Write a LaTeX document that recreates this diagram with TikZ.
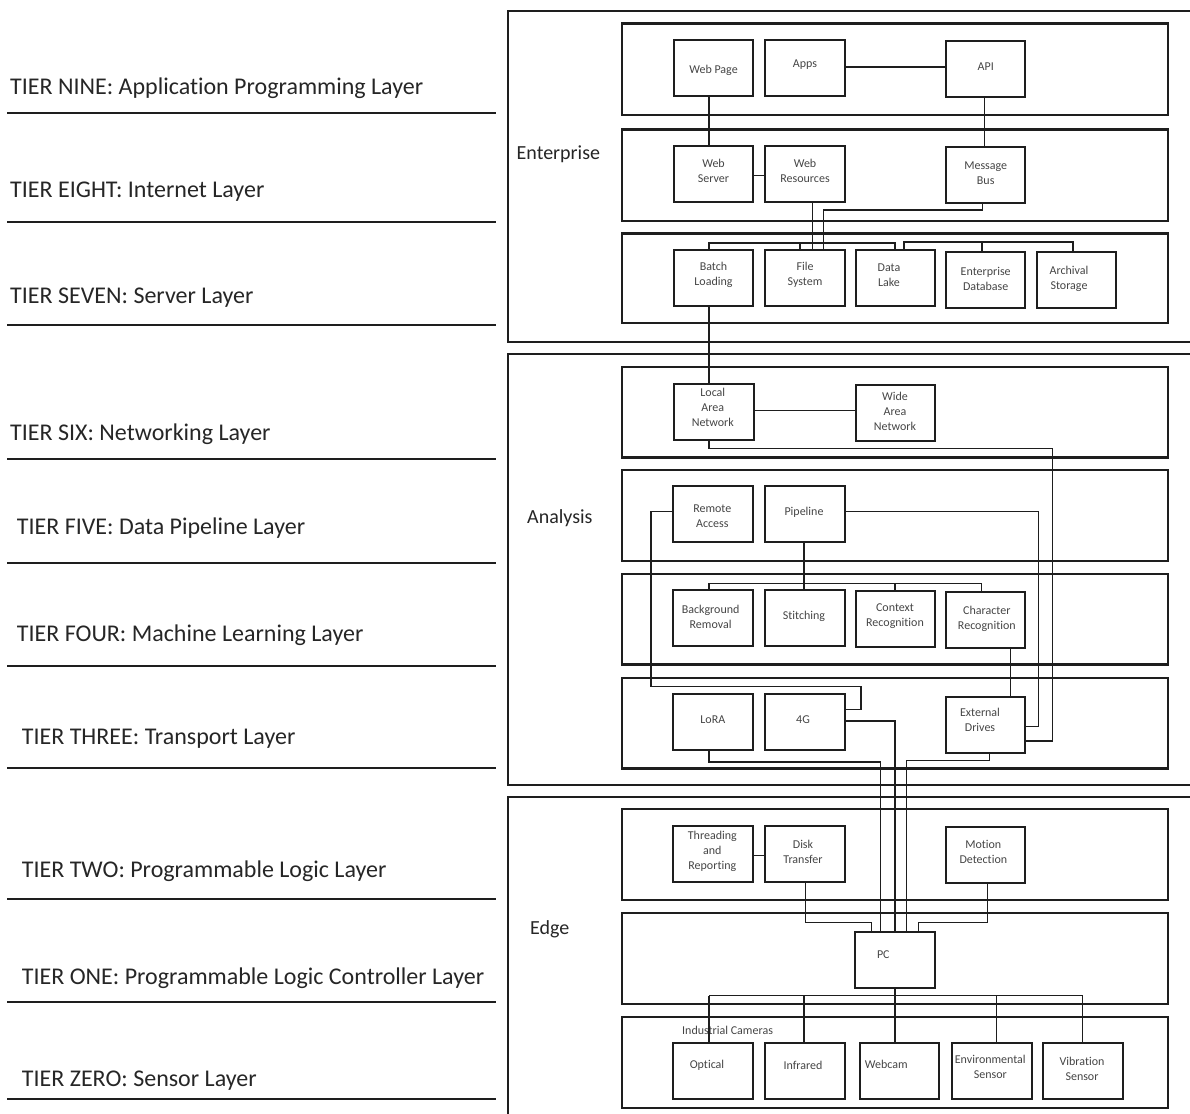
\documentclass[tikz,border=0pt]{standalone}
\usepackage{fontspec}
\setmainfont{Carlito}[Ligatures=NoCommon]
\definecolor{ink}{HTML}{1E1E1E}
\definecolor{txt}{HTML}{262626}
\definecolor{ntxt}{HTML}{454545}
\begin{document}
\begin{tikzpicture}[x=1pt,y=-1pt,
  tierlbl/.style={anchor=base west,inner sep=0,font=\fontsize{24}{28}\selectfont,text=txt},
  seclbl/.style={anchor=base west,inner sep=0,font=\fontsize{20}{24}\selectfont,text=txt},
  sepline/.style={draw=ink,line width=2pt},
  outerbox/.style={draw=ink,line width=2pt},
  layerbox/.style={draw=ink,line width=2.4pt},
  nbox/.style={draw=ink,line width=2pt,minimum width=79.5pt,minimum height=56pt,inner sep=0},
  ntext/.style={inner sep=0,align=center,font=\fontsize{12}{15}\selectfont,text=ntxt},
  conn/.style={draw=ink,line width=1.3pt}]
\useasboundingbox (0,0) rectangle (1190,1113);
\clip (0,0) rectangle (1190,1113);

% ---------- tier captions and separators ----------
\node[tierlbl] (t9) at (10,94.6)    {TIER NINE: Application Programming Layer};
\node[tierlbl] (t8) at (10,197.5)   {TIER EIGHT: Internet Layer};
\node[tierlbl] (t7) at (10,303.6)   {TIER SEVEN: Server Layer};
\node[tierlbl] (t6) at (10,440)     {TIER SIX: Networking Layer};
\node[tierlbl] (t5) at (16.7,534.6) {TIER FIVE: Data Pipeline Layer};
\node[tierlbl] (t4) at (16.7,641.6) {TIER FOUR: Machine Learning Layer};
\node[tierlbl] (t3) at (21.7,744)   {TIER THREE: Transport Layer};
\node[tierlbl] (t2) at (21.7,877.8) {TIER TWO: Programmable Logic Layer};
\node[tierlbl] (t1) at (21.7,984.5) {TIER ONE: Programmable Logic Controller Layer};
\node[tierlbl] (t0) at (21.7,1086.8){TIER ZERO: Sensor Layer};
\foreach \y in {112.6,222,325,458.5,562.6,665.6,768.3,899,1002.4,1099.4}
  \draw[sepline] (7,\y) -- (496,\y);

% ---------- zone frames ----------
\draw[outerbox] (508,10.7) rectangle (1200,342);
\draw[outerbox] (508,354) rectangle (1200,784.5);
\draw[outerbox] (508,796.7) rectangle (1200,1130);
\node[seclbl] (zent) at (516.5,159.3) {Enterprise};
\node[seclbl] (zana) at (527,523.3) {Analysis};
\node[seclbl] (zedg) at (530,934) {Edge};

% ---------- layer frames ----------
\draw[layerbox] (622,23.5) rectangle (1168,115);
\draw[layerbox] (622,129.5) rectangle (1168,221);
\draw[layerbox] (622,233.5) rectangle (1168,323);
\draw[layerbox] (622,366.7) rectangle (1168,457.3);
\draw[layerbox] (622,470) rectangle (1168,560.7);
\draw[layerbox] (622,574) rectangle (1168,664.3);
\draw[layerbox] (622,677.7) rectangle (1168,768.5);
\draw[layerbox] (622,809) rectangle (1168,900);
\draw[layerbox] (622,913) rectangle (1168,1004);
\draw[layerbox] (622,1017) rectangle (1168,1108);

% ---------- enterprise ----------
\node[nbox] (wp)   at (713.5,68) {};   \node[ntext] (wp-t)   at (713.5,70)  {Web Page};
\node[nbox] (apps) at (805,68) {};     \node[ntext] (apps-t) at (805,65)    {Apps};
\node[nbox] (api)  at (985.7,69.5) {}; \node[ntext] (api-t)  at (985.7,67)  {API};
\node[nbox] (ws)   at (713.5,174) {};  \node[ntext] (ws-t)   at (713.5,171) {Web\\Server};
\node[nbox] (wr)   at (805,174) {};    \node[ntext] (wr-t)   at (805,171)   {Web\\Resources};
\node[nbox] (mb)   at (985.7,175) {};  \node[ntext] (mb-t)   at (985.7,173) {Message\\Bus};
\node[nbox] (bl)   at (713.5,278) {};  \node[ntext] (bl-t)   at (713.5,275) {Batch\\Loading};
\node[nbox] (fs)   at (805,278) {};    \node[ntext] (fs-t)   at (805,275)   {File\\System};
\node[nbox] (dl)   at (895.5,278) {};  \node[ntext] (dl-t)   at (889,275)   {Data\\Lake};
\node[nbox] (edb)  at (985.7,279.5) {};\node[ntext] (edb-t)  at (985.7,279) {Enterprise\\Database};
\node[nbox] (arc)  at (1076.5,279.5) {};\node[ntext] (arc-t) at (1069,279)  {Archival\\Storage};

\draw[conn] (wp.south -| 709,0) -- (ws.north -| 709,0);
\draw[conn,line width=1.8pt] (apps.east |- 0,66.7) -- (api.west |- 0,66.7);
\draw[conn] (api.south -| 984.6,0) -- (mb.north -| 984.6,0);
\draw[conn] (ws.east |- 0,175.7) -- (wr.west |- 0,175.7);
\draw[conn] (wr.south -| 812.5,0) -- (fs.north -| 812.5,0);
\draw[conn] (mb.south -| 982.5,0) -- (982.5,210) -- (823.5,210) -- (fs.north -| 823.5,0);
\coordinate (j7a) at (800,243);
\coordinate (j7b) at (982,242);
\draw[conn] (bl.north -| 709,0) -- (709,243) -- (895,243) -- (dl.north -| 895,0);
\draw[conn] (j7a) -- (fs.north -| j7a);
\draw[conn] (dl.north -| 904,0) -- (904,242) -- (1073,242) -- (arc.north -| 1073,0);
\draw[conn] (j7b) -- (edb.north -| j7b);

% ---------- analysis ----------
\node[nbox] (lan)  at (714,411.7) {};   \node[ntext] (lan-t)  at (712.8,407.5) {Local\\Area\\Network};
\node[nbox] (wan)  at (895.3,413.3) {}; \node[ntext] (wan-t)  at (895,411.5)   {Wide\\Area\\Network};
\node[nbox] (ra)   at (713,513.7) {};   \node[ntext] (ra-t)   at (712.3,516.5) {Remote\\Access};
\node[nbox] (pipe) at (805,514.3) {};   \node[ntext] (pipe-t) at (804,512.7)   {Pipeline};
\node[nbox] (bgr)  at (713,618.3) {};   \node[ntext] (bgr-t)  at (710.6,616.7) {Background\\Removal};
\node[nbox] (sti)  at (805,618.3) {};   \node[ntext] (sti-t)  at (804,616.7)   {Stitching};
\node[nbox] (ctx)  at (895.5,619.2) {}; \node[ntext] (ctx-t)  at (895,616)     {Context\\Recognition};
\node[nbox] (chr)  at (985.7,619.5) {}; \node[ntext] (chr-t)  at (986.8,619.2) {Character\\Recognition};
\node[nbox] (lora) at (713,722) {};     \node[ntext] (lora-t) at (712.8,720)   {LoRA};
\node[nbox] (g4)   at (805,722) {};     \node[ntext] (g4-t)   at (803,720)     {4G};
\node[nbox] (ed)   at (985.7,724.5) {}; \node[ntext] (ed-t)   at (980,720.2)   {External\\Drives};

\draw[conn] (bl.south -| 709,0) -- (lan.north -| 709,0);
\draw[conn] (lan.east |- 0,410.7) -- (wan.west |- 0,410.7);
\draw[conn] (lan.south -| 709,0) -- (709,448.7) -- (1052.8,448.7) -- (1052.8,741) -- (ed.east |- 0,741);
\draw[conn] (ra.west |- 0,511.7) -- (651,511.7) -- (651,686.7) -- (861,686.7) -- (861,709.7) -- (g4.east |- 0,709.7);
\draw[conn] (pipe.east |- 0,511.7) -- (1038.3,511.7) -- (1038.3,726.7) -- (ed.east |- 0,726.7);
\draw[conn] (pipe.south -| 804,0) -- (sti.north -| 804,0);
\coordinate (j4a) at (709,583.3);
\coordinate (j4b) at (895,583.3);
\coordinate (j4c) at (981.5,583.3);
\draw[conn] (j4a) -- (j4c);
\draw[conn] (j4a) -- (bgr.north -| j4a);
\draw[conn] (j4b) -- (ctx.north -| j4b);
\draw[conn] (j4c) -- (chr.north -| j4c);
\draw[conn] (chr.south -| 1010.7,0) -- (ed.north -| 1010.7,0);

% ---------- edge ----------
\node[nbox] (thr) at (713,853.7) {};   \node[ntext] (thr-t) at (712.3,851.5) {Threading\\and\\Reporting};
\node[nbox] (dt)  at (805,853.7) {};   \node[ntext] (dt-t)  at (803,851.5)   {Disk\\Transfer};
\node[nbox] (md)  at (985.7,854.8) {}; \node[ntext] (md-t)  at (983.3,851.7) {Motion\\Detection};
\node[nbox] (pc)  at (895.2,960.2) {}; \node[ntext] (pc-t)  at (883.3,955)   {PC};
\node[ntext,anchor=west] (cams) at (682,1030) {Industrial Cameras};
\node[nbox] (opt) at (713,1070.5) {};  \node[ntext] (opt-t) at (707,1065)    {Optical};
\node[nbox] (ir)  at (805,1070.5) {};  \node[ntext] (ir-t)  at (803,1065)    {Infrared};
\node[nbox] (wc)  at (899.5,1070.5) {};\node[ntext,anchor=west] (wc-t) at (864.7,1064.3) {Webcam};
\node[nbox] (env) at (992.2,1070.5) {};\node[ntext] (env-t) at (990.3,1066.5) {Environmental\\Sensor};
\node[nbox] (vib) at (1082.8,1070.5) {};\node[ntext] (vib-t) at (1082,1069)  {Vibration\\Sensor};

\draw[conn] (thr.east |- 0,855.7) -- (dt.west |- 0,855.7);
\draw[conn] (lora.south -| 709,0) -- (709,762) -- (880.7,762) -- (pc.north -| 880.7,0);
\draw[conn] (g4.east |- 0,721) -- (895,721) -- (pc.north -| 895,0);
\draw[conn] (ed.south -| 989.5,0) -- (989.5,760.5) -- (906.7,760.5) -- (pc.north -| 906.7,0);
\draw[conn] (dt.south -| 805.7,0) -- (805.7,922.3) -- (871.7,922.3) -- (pc.north -| 871.7,0);
\draw[conn] (md.south -| 987.3,0) -- (987.3,922.3) -- (918.3,922.3) -- (pc.north -| 918.3,0);
\coordinate (j0a) at (709,995.5);
\coordinate (j0b) at (804,995.5);
\coordinate (j0c) at (895,995.5);
\coordinate (j0d) at (996.5,995.5);
\coordinate (j0e) at (1082.8,995.5);
\draw[conn] (pc.south -| j0c) -- (j0c);
\draw[conn] (j0a) -- (j0e);
\draw[conn] (j0a) -- (opt.north -| j0a);
\draw[conn] (j0b) -- (ir.north -| j0b);
\draw[conn] (j0c) -- (wc.north -| j0c);
\draw[conn] (j0d) -- (env.north -| j0d);
\draw[conn] (j0e) -- (vib.north -| j0e);
\end{tikzpicture}
\end{document}
